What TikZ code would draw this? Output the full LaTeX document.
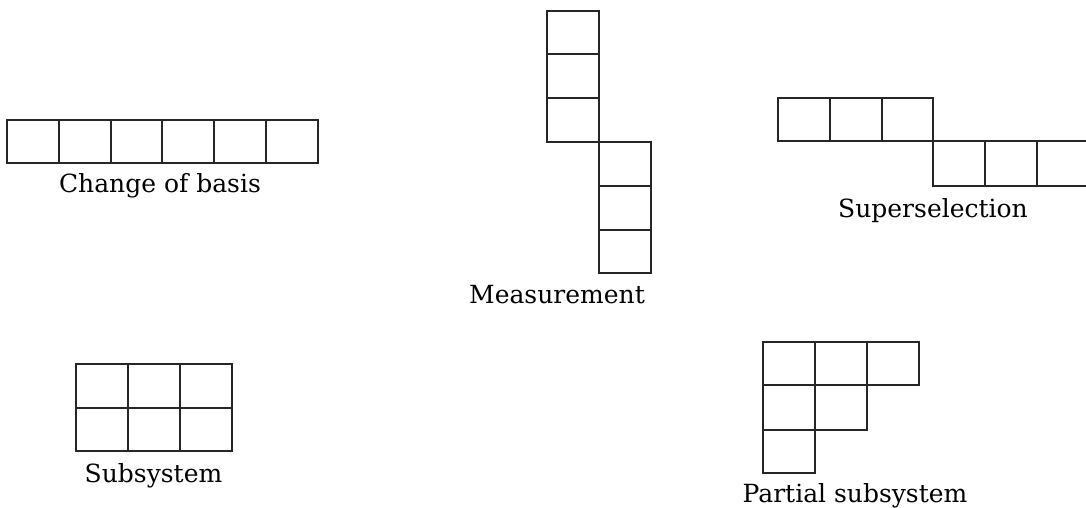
\documentclass[tikz,border=0pt]{standalone}
\usepackage{fontspec}
\setmainfont{DejaVu Serif}
\begin{document}
\begin{tikzpicture}[x=1pt,y=-1pt,
  gridline/.style={line width=1.2pt,draw=black!85},
  lbl/.style={anchor=base,inner sep=0pt,font=\fontsize{25}{28}\selectfont}]
\useasboundingbox (0,0) rectangle (1086,508);
% Change of basis
\draw[gridline] (7,120) rectangle (318,163);
\foreach \x in {59,111,162,214,266} \draw[gridline] (\x,120) -- (\x,163);
\node[lbl] (cob) at (160,192) {Change of basis};
% Measurement
\draw[gridline] (547,11) rectangle (599,142);
\foreach \y in {54,98} \draw[gridline] (547,\y) -- (599,\y);
\draw[gridline] (599,142) rectangle (651,273);
\foreach \y in {186,230} \draw[gridline] (599,\y) -- (651,\y);
\node[lbl] (meas) at (557,303) {Measurement};
% Superselection
\draw[gridline] (778,98) rectangle (933,141);
\foreach \x in {830,882} \draw[gridline] (\x,98) -- (\x,141);
\draw[gridline] (933,141) rectangle (1089,186);
\foreach \x in {985,1037} \draw[gridline] (\x,141) -- (\x,186);
\node[lbl] (sup) at (933,217) {Superselection};
% Subsystem
\draw[gridline] (76,364) rectangle (232,451);
\draw[gridline] (76,408) -- (232,408);
\foreach \x in {128,180} \draw[gridline] (\x,364) -- (\x,451);
\node[lbl] (subs) at (153.5,482) {Subsystem};
% Partial subsystem
\draw[gridline] (763,342) -- (919,342) -- (919,385) -- (867,385) -- (867,430) -- (815,430) -- (815,473) -- (763,473) -- cycle;
\draw[gridline] (763,385) -- (867,385);
\draw[gridline] (763,430) -- (815,430);
\draw[gridline] (815,342) -- (815,430);
\draw[gridline] (867,342) -- (867,385);
\node[lbl] (psub) at (855,502) {Partial subsystem};
\end{tikzpicture}
\end{document}
